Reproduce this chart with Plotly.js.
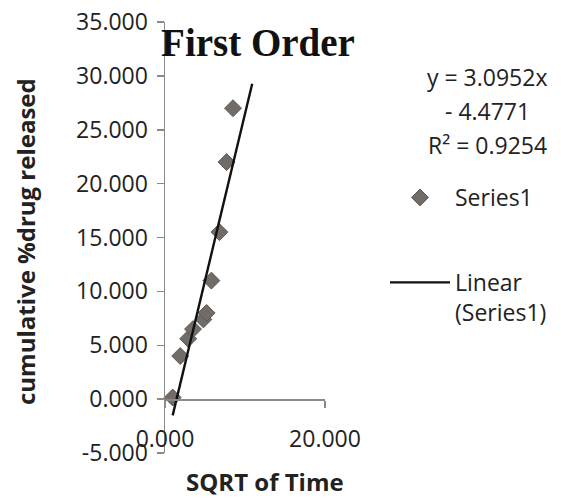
<!DOCTYPE html>
<html>
<head>
<meta charset="utf-8">
<script src="https://cdn.plot.ly/plotly-3.0.1.min.js"></script>
<style>html,body{margin:0;padding:0;background:#fff;}#chart{width:561px;height:500px;}</style>
</head>
<body>
<div id="chart"></div>
<script>
// Data
const sqrtTime = [0.96, 1.9, 2.9, 3.5, 4.8, 5.2, 5.8, 6.8, 7.7, 8.5];
const cumDrug  = [0.15, 4.0, 5.6, 6.5, 7.4, 8.0, 11.0, 15.5, 22.0, 27.0];
const slope = 3.0952;
const intercept = -4.4771;
const rSquared = 0.9254;
const forecastForward = 2.4;
const yTickVals = [-5, 0, 5, 10, 15, 20, 25, 30, 35];
const yTickText = ['-5.000', '0.000', '5.000', '10.000', '15.000', '20.000', '25.000', '30.000', '35.000'];
const xTickVals = [0, 20];
const xTickText = ['0.000', '20.000'];
const yRange = [-5, 35];
const xRange = [0, 20];

const xMin = Math.min(...sqrtTime);
const xMax = Math.max(...sqrtTime) + forecastForward;
const trendX = [xMin, xMax];
const trendY = trendX.map(x => slope * x + intercept);

const font = 'Open Sans, Noto Sans, sans-serif';

// plot area in pixels (for placing free text in paper coordinates)
const PL = 165, PR = 325, PT = 22, PB = 453;
const px = v => (v - PL) / (PR - PL);
const py = v => (PB - v) / (PB - PT);

const traces = [
  {
    x: sqrtTime, y: cumDrug, type: 'scatter', mode: 'markers', name: 'Series1',
    legendgroup: 'a',
    marker: {symbol: 'diamond', size: 13, color: '#726c69', line: {color: '#5e5855', width: 1}},
    cliponaxis: false
  },
  {
    x: trendX, y: trendY, type: 'scatter', mode: 'lines', name: 'Linear<br>(Series1)',
    legendgroup: 'b',
    line: {color: '#111', width: 2.4},
    cliponaxis: false
  }
];

const axisFont = {family: font, size: 23, color: '#222'};
const txtFont = {family: font, size: 23, color: '#222'};

const layout = {
  width: 561, height: 500,
  margin: {l: PL, r: 561 - PR, t: PT, b: 500 - PB},
  paper_bgcolor: '#fff', plot_bgcolor: '#fff',
  showlegend: true,
  title: {
    text: '<b>First Order</b>',
    font: {family: 'Liberation Serif, Times New Roman, serif', size: 39, color: '#111'},
    xref: 'container', yref: 'container',
    x: 258 / 561, xanchor: 'center',
    y: 1 - 42 / 500, yanchor: 'middle'
  },
  xaxis: {
    range: xRange,
    anchor: 'free',
    position: (0 - yRange[0]) / (yRange[1] - yRange[0]),
    showline: true, linecolor: '#8a8a8a', linewidth: 1.5,
    showgrid: false, zeroline: false,
    ticks: 'outside', ticklen: 7, tickcolor: '#8a8a8a', tickwidth: 1.5,
    tickvals: xTickVals, ticktext: xTickText,
    ticklabelstandoff: 12,
    tickfont: axisFont
  },
  yaxis: {
    range: yRange,
    showline: true, linecolor: '#8a8a8a', linewidth: 1.5,
    showgrid: false, zeroline: false,
    ticks: 'outside', ticklen: 7, tickcolor: '#8a8a8a', tickwidth: 1.5,
    tickvals: yTickVals, ticktext: yTickText,
    ticklabelstandoff: 4,
    tickfont: axisFont
  },
  legend: {
    xref: 'container', yref: 'container',
    x: 385 / 561, xanchor: 'left',
    y: 1 - 176 / 500, yanchor: 'top',
    font: txtFont,
    bgcolor: 'rgba(0,0,0,0)',
    traceorder: 'grouped',
    tracegroupgap: 52,
    itemwidth: 60,
    valign: 'top'
  },
  annotations: [
    {text: 'y = ' + slope.toFixed(4) + 'x', xref: 'paper', yref: 'paper',
     x: px(487), y: py(77), xanchor: 'center', yanchor: 'middle',
     showarrow: false, font: txtFont},
    {text: '- ' + Math.abs(intercept).toFixed(4), xref: 'paper', yref: 'paper',
     x: px(487), y: py(111), xanchor: 'center', yanchor: 'middle',
     showarrow: false, font: txtFont},
    {text: 'R² = ' + rSquared.toFixed(4), xref: 'paper', yref: 'paper',
     x: px(487), y: py(145), xanchor: 'center', yanchor: 'middle',
     showarrow: false, font: txtFont},
    {text: '<b>SQRT of Time</b>', xref: 'paper', yref: 'paper',
     x: px(265), y: py(481), xanchor: 'center', yanchor: 'middle',
     showarrow: false, font: {family: font, size: 24, color: '#222'}},
    {text: '<b>cumulative %drug released</b>', xref: 'paper', yref: 'paper',
     x: px(26), y: py(242), xanchor: 'center', yanchor: 'middle', textangle: -90,
     showarrow: false, font: {family: font, size: 24, color: '#222'}}
  ]
};

Plotly.newPlot('chart', traces, layout, {staticPlot: true, displayModeBar: false});
</script>
</body>
</html>
